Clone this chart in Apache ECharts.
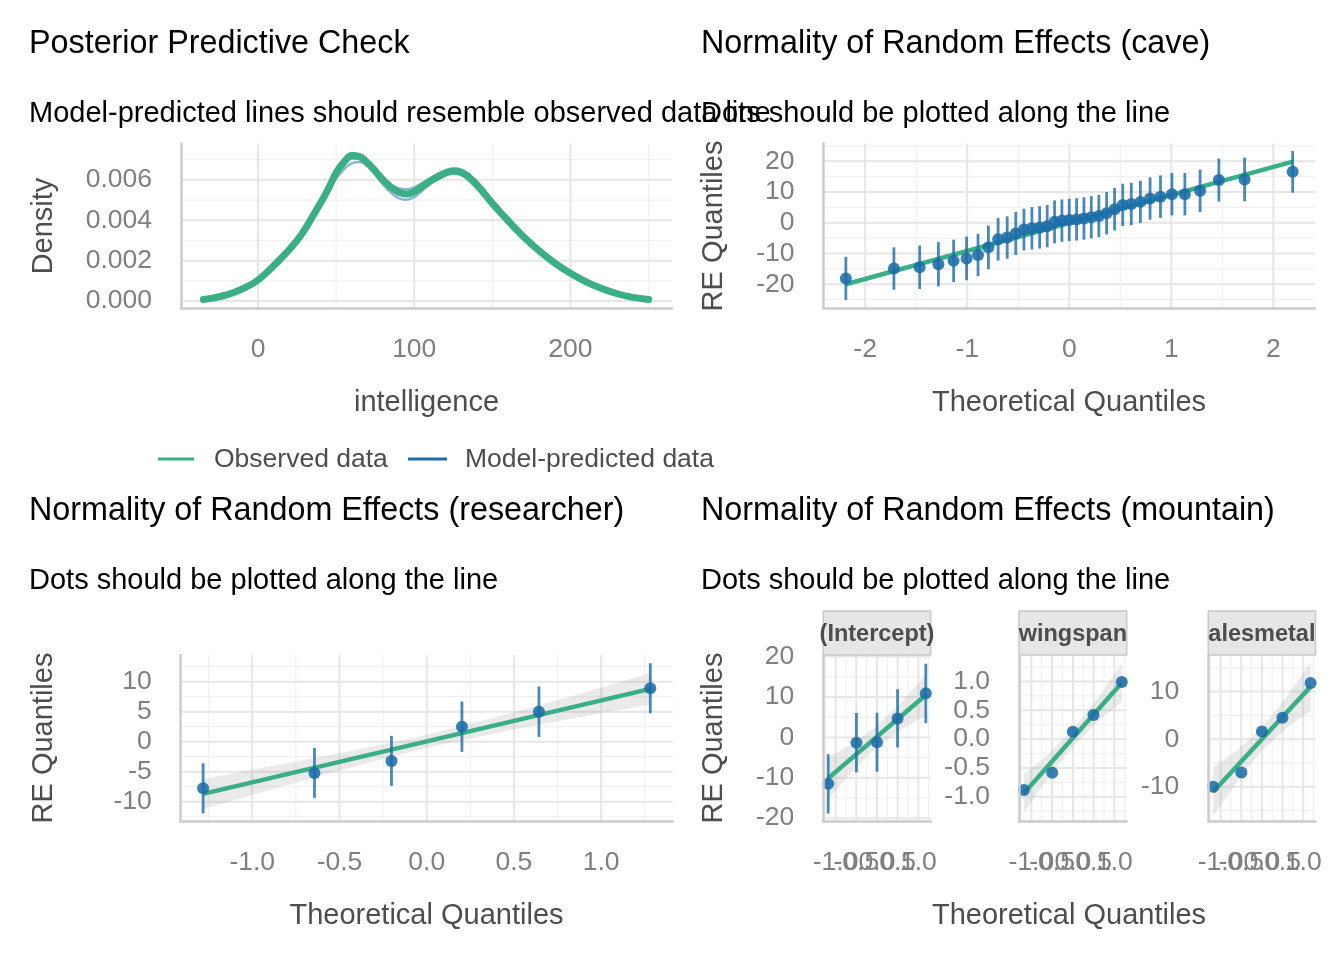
<!DOCTYPE html>
<html><head><meta charset="utf-8">
<script src="https://cdn.jsdelivr.net/npm/echarts@6/dist/echarts.min.js"></script>
<style>html,body{margin:0;padding:0;background:#fff}#c{width:1344px;height:960px}</style>
</head><body><div id="c"></div>
<script>
// ---------------- DATA ----------------
// Posterior predictive check (density of intelligence)
const ppcX = [-35,-30,-20,-10,0,10,20,25,30,35,40,45,50,55,60,65,70,75,80,85,90,95,100,105,110,115,120,125,130,135,140,145,150,160,170,180,190,200,210,220,230,240,250];
const ppcObserved = [0.00008,0.00013,0.00030,0.00060,0.00104,0.00175,0.00255,0.00300,0.00355,0.00420,0.00485,0.00555,0.00635,0.00688,0.00720,0.00715,0.00685,0.00645,0.00600,0.00565,0.00540,0.00530,0.00542,0.00566,0.00592,0.00615,0.00633,0.00642,0.00636,0.00612,0.00575,0.00530,0.00483,0.00398,0.00318,0.00248,0.00188,0.00137,0.00095,0.00062,0.00036,0.00018,0.00008];
const ppcDrawA = [0.00009,0.00014,0.00032,0.00063,0.00108,0.00180,0.00262,0.00308,0.00362,0.00425,0.00490,0.00556,0.00622,0.00672,0.00705,0.00705,0.00680,0.00640,0.00598,0.00562,0.00540,0.00535,0.00548,0.00575,0.00603,0.00628,0.00648,0.00658,0.00652,0.00628,0.00590,0.00545,0.00497,0.00410,0.00327,0.00255,0.00192,0.00140,0.00098,0.00064,0.00037,0.00019,0.00008];
const ppcDrawB = [0.00008,0.00013,0.00031,0.00062,0.00106,0.00177,0.00258,0.00305,0.00360,0.00424,0.00492,0.00562,0.00632,0.00685,0.00714,0.00706,0.00672,0.00625,0.00577,0.00537,0.00510,0.00502,0.00515,0.00545,0.00580,0.00612,0.00635,0.00645,0.00640,0.00618,0.00582,0.00538,0.00490,0.00402,0.00322,0.00250,0.00189,0.00138,0.00096,0.00063,0.00036,0.00018,0.00008];
const ppcDrawC = [0.00009,0.00015,0.00033,0.00066,0.00110,0.00182,0.00263,0.00309,0.00361,0.00420,0.00482,0.00545,0.00606,0.00652,0.00682,0.00688,0.00670,0.00638,0.00603,0.00574,0.00557,0.00553,0.00563,0.00584,0.00608,0.00628,0.00642,0.00646,0.00637,0.00613,0.00578,0.00537,0.00492,0.00407,0.00326,0.00256,0.00194,0.00142,0.00099,0.00065,0.00038,0.00019,0.00009];
const ppcDrawD = [0.00008,0.00013,0.00030,0.00061,0.00104,0.00174,0.00254,0.00300,0.00354,0.00418,0.00486,0.00556,0.00626,0.00680,0.00712,0.00710,0.00682,0.00642,0.00598,0.00562,0.00538,0.00530,0.00540,0.00564,0.00594,0.00622,0.00643,0.00652,0.00648,0.00627,0.00592,0.00548,0.00500,0.00413,0.00332,0.00260,0.00196,0.00143,0.00100,0.00066,0.00038,0.00019,0.00008];
const ppcDrawE = [0.00007,0.00012,0.00029,0.00059,0.00101,0.00171,0.00252,0.00300,0.00356,0.00422,0.00494,0.00568,0.00640,0.00694,0.00722,0.00715,0.00682,0.00636,0.00590,0.00552,0.00528,0.00521,0.00532,0.00556,0.00584,0.00609,0.00626,0.00633,0.00627,0.00606,0.00573,0.00532,0.00487,0.00402,0.00322,0.00252,0.00191,0.00140,0.00097,0.00064,0.00037,0.00018,0.00008];
const ppcXTicks = [0,100,200];
const ppcYTicks = [0,0.002,0.004,0.006];

// Random effects: cave
const caveX = [-2.189,-1.718,-1.466,-1.282,-1.133,-1.006,-0.894,-0.792,-0.697,-0.608,-0.524,-0.444,-0.366,-0.290,-0.216,-0.144,-0.072,0,0.072,0.144,0.216,0.290,0.366,0.444,0.524,0.608,0.697,0.792,0.894,1.006,1.133,1.282,1.466,1.718,2.189];
const caveY = [-18.1,-14.9,-14.5,-13.5,-12.4,-11.6,-10.5,-8.0,-5.4,-4.8,-3.5,-2.2,-1.8,-1.5,-1.1,0.3,0.7,0.9,1.1,1.4,1.8,2.2,3.1,4.4,5.8,6.1,6.8,7.9,8.5,9.3,9.3,10.4,13.9,14.1,16.6];
const caveErr = [7.0,6.9,7.1,7.2,6.9,7.1,6.9,7.1,6.9,6.9,7.0,6.8,6.9,6.9,6.9,7.0,6.9,6.9,6.9,6.9,6.9,6.9,6.9,6.9,6.9,6.9,6.9,6.9,6.9,6.9,6.9,6.9,7.0,7.1,6.8];
const caveLineX = [-2.189,2.189];
const caveLineY = [-20.0,19.9];
const caveXTicks = [-2,-1,0,1,2];
const caveYTicks = [-20,-10,0,10,20];

// Random effects: researcher
const resX = [-1.2816,-0.6433,-0.2019,0.2019,0.6433,1.2816];
const resY = [-7.77,-5.2,-3.2,2.5,5.0,8.9];
const resErr = [4.17,4.17,4.17,4.2,4.2,4.17];
const resLineX = [-1.2816,1.2816];
const resLineY = [-8.7,8.8];
const resBandX = [-1.2816,-0.9,-0.5,0,0.5,0.9,1.2816];
const resBandLo = [-11.2,-8.05,-4.82,-1.0,2.02,4.25,6.2];
const resBandHi = [-6.2,-4.15,-1.92,1.1,4.92,8.15,11.4];
const resXTicks = [-1,-0.5,0,0.5,1];
const resYTicks = [-10,-5,0,5,10];

// Random effects: mountain (three facets)
const mtX = [-1.1798,-0.4972,0,0.4972,1.1798];
const mtLineX = [-1.1798,1.1798];
const mtBandX = [-1.1798,-0.6,0,0.6,1.1798];
const mtInterceptY = [-11.5,-1.3,-1.2,4.7,10.9];
const mtInterceptErr = [7.35,7.35,7.3,7.2,7.35];
const mtInterceptLineY = [-10.1,10.5];
const mtInterceptBandLo = [-15.3,-8.44,-2.4,2.04,5.5];
const mtInterceptBandHi = [-4.9,-1.64,2.8,8.84,15.5];
const mtWingY = [-0.883,-0.582,0.13,0.42,0.99];
const mtWingLineY = [-0.94,0.98];
const mtWingBandLo = [-1.27,-0.668,-0.13,0.308,0.65];
const mtWingBandHi = [-0.61,-0.268,0.17,0.708,1.31];
const mtMetalY = [-10.0,-7.0,1.6,4.5,11.8];
const mtMetalLineY = [-11.05,11.05];
const mtMetalBandLo = [-16.15,-8.92,-2.4,2.32,5.95];
const mtMetalBandHi = [-5.95,-2.32,2.4,8.92,16.15];
const mtXTicks = [-1,-0.5,0,0.5,1];
const mtInterceptYTicks = [-20,-10,0,10,20];
const mtWingYTicks = [-1,-0.5,0,0.5,1];
const mtMetalYTicks = [-10,0,10];
const facetNames = ['(Intercept)','wingspan','alesmetal'];

// ---------------- STYLE / LAYOUT ----------------
const FONT = "'Liberation Sans', Arial, Helvetica, sans-serif";
const GREEN = '#3aaf85', BLUE = '#1b6ca8';
const TICKC = '#7f7f7f', TITLEC = '#4d4d4d';
const TICKS = 26.5;
const zip = (xs, ys) => xs.map((x, i) => [x, ys[i]]);

const grids = [], xAxes = [], yAxes = [], series = [], graphics = [];

function addPanel(rect, xr, yr, xLabelGroups, yLabels, xfmt, yfmt, grid) {
  const gi = grids.length;
  grids.push({left: rect[0], top: rect[1], width: rect[2], height: rect[3], containLabel: false});
  const xi = xAxes.length;
  xLabelGroups.forEach((vals, k) => {
    xAxes.push({type: 'value', gridIndex: gi, position: 'bottom', min: xr[0], max: xr[1], z: 10,
      axisLine: {show: k === 0, onZero: false, lineStyle: {color: '#cccccc', width: 2.5}},
      axisTick: {show: false}, splitLine: {show: false},
      axisLabel: {customValues: vals, formatter: xfmt, margin: 28, color: TICKC, fontSize: TICKS, fontFamily: FONT}});
  });
  const yi = yAxes.length;
  yAxes.push({type: 'value', gridIndex: gi, position: 'left', min: yr[0], max: yr[1], z: 10,
    axisLine: {show: true, onZero: false, lineStyle: {color: '#cccccc', width: 2.5}},
    axisTick: {show: false}, splitLine: {show: false},
    axisLabel: {customValues: yLabels, formatter: yfmt, margin: 29, color: TICKC, fontSize: TICKS, fontFamily: FONT,
      padding: [4, 0, 0, 0]}});
  // grid lines through the axis scales
  series.push({type: 'custom', xAxisIndex: xi, yAxisIndex: yi, silent: true, z: 0,
    data: [[xr[0], yr[0]]],
    renderItem: function (params, api) {
      const ch = [];
      const add = (a, b, major) => ch.push({type: 'line', shape: {x1: a[0], y1: a[1], x2: b[0], y2: b[1]},
        style: {stroke: major ? '#e6e6e6' : '#f1f1f1', lineWidth: major ? 2 : 1.2}});
      grid.xMinor.forEach(v => add(api.coord([v, yr[0]]), api.coord([v, yr[1]]), false));
      grid.yMinor.forEach(v => add(api.coord([xr[0], v]), api.coord([xr[1], v]), false));
      grid.xMajor.forEach(v => add(api.coord([v, yr[0]]), api.coord([v, yr[1]]), true));
      grid.yMajor.forEach(v => add(api.coord([xr[0], v]), api.coord([xr[1], v]), true));
      return {type: 'group', children: ch};
    }});
  return {xi, yi};
}

function bandSeries(ax, bx, lo, hi) {
  series.push({type: 'custom', xAxisIndex: ax.xi, yAxisIndex: ax.yi, silent: true, z: 1,
    data: [[bx[0], lo[0]]],
    renderItem: function (params, api) {
      const pts = [];
      bx.forEach((x, i) => pts.push(api.coord([x, hi[i]])));
      for (let i = bx.length - 1; i >= 0; i--) pts.push(api.coord([bx[i], lo[i]]));
      return {type: 'polygon', shape: {points: pts}, style: {fill: 'rgba(150,150,150,0.2)'}};
    }});
}
function refLine(ax, lx, ly) {
  series.push({type: 'line', xAxisIndex: ax.xi, yAxisIndex: ax.yi, data: zip(lx, ly), showSymbol: false,
    symbol: 'none', lineStyle: {color: GREEN, width: 4.5}, z: 3, silent: true});
}
function errBars(ax, xs, ys, err) {
  series.push({type: 'custom', xAxisIndex: ax.xi, yAxisIndex: ax.yi, silent: true, z: 4,
    encode: {x: 0, y: [1, 2]},
    data: xs.map((x, i) => [x, ys[i] - err[i], ys[i] + err[i]]),
    renderItem: function (params, api) {
      const a = api.coord([api.value(0), api.value(1)]);
      const b = api.coord([api.value(0), api.value(2)]);
      return {type: 'line', shape: {x1: a[0], y1: a[1], x2: b[0], y2: b[1]},
        style: {stroke: BLUE, lineWidth: 2.8, opacity: 0.8}};
    }});
}
function points(ax, xs, ys) {
  series.push({type: 'scatter', xAxisIndex: ax.xi, yAxisIndex: ax.yi, data: zip(xs, ys),
    symbolSize: 12, itemStyle: {color: BLUE, opacity: 0.88}, z: 5, silent: true});
}

const f0 = v => String(v), f1 = v => v.toFixed(1), f3 = v => v.toFixed(3);

// Panel A: posterior predictive check
const axA = addPanel([181, 143.5, 491, 165], [-49.3, 265], [-0.00037, 0.0078], [ppcXTicks], ppcYTicks, f0, f3,
  {xMajor: ppcXTicks, xMinor: [50, 150, 250], yMajor: ppcYTicks, yMinor: [0.001, 0.003, 0.005, 0.007]});
[ppcDrawA, ppcDrawB, ppcDrawC, ppcDrawD, ppcDrawE].forEach(d => {
  series.push({type: 'line', xAxisIndex: axA.xi, yAxisIndex: axA.yi, data: zip(ppcX, d), smooth: 0.4,
    showSymbol: false, symbol: 'none', lineStyle: {color: BLUE, width: 2.5, opacity: 0.5}, z: 2, silent: true});
});
series.push({type: 'line', xAxisIndex: axA.xi, yAxisIndex: axA.yi, data: zip(ppcX, ppcObserved), smooth: 0.4,
  showSymbol: false, symbol: 'none', lineStyle: {color: GREEN, width: 7, cap: 'round'}, z: 3, silent: true});

// Panel B: cave
const axB = addPanel([823.5, 143.5, 491.5, 165], [-2.408, 2.408], [-27.9, 25.8], [caveXTicks], caveYTicks, f0, f0,
  {xMajor: caveXTicks, xMinor: [-1.5, -0.5, 0.5, 1.5], yMajor: caveYTicks, yMinor: [-25, -15, -5, 5, 15, 25]});
refLine(axB, caveLineX, caveLineY);
errBars(axB, caveX, caveY, caveErr);
points(axB, caveX, caveY);

// Panel C: researcher
const axC = addPanel([180.7, 655, 492, 166.5], [-1.41, 1.41], [-13.3, 14.45], [resXTicks], resYTicks, f1, f0,
  {xMajor: resXTicks, xMinor: [-1.25, -0.75, -0.25, 0.25, 0.75, 1.25], yMajor: resYTicks, yMinor: [-12.5, -7.5, -2.5, 2.5, 7.5, 12.5]});
bandSeries(axC, resBandX, resBandLo, resBandHi);
refLine(axC, resLineX, resLineY);
errBars(axC, resX, resY, resErr);
points(axC, resX, resY);

// Panel D: mountain facets
const mtXGroups = [[-1, 0.5], [-0.5, 1], [0]];
const mtXMinor = [-1.25, -0.75, -0.25, 0.25, 0.75, 1.25];
const facetRects = [[823.3, 655, 107.4, 166], [1019, 655, 107.7, 166], [1208.3, 655, 107.2, 166]];
const axD1 = addPanel(facetRects[0], [-1.298, 1.298], [-20.7, 20.4], mtXGroups, mtInterceptYTicks, f1, f0,
  {xMajor: mtXTicks, xMinor: mtXMinor, yMajor: mtInterceptYTicks, yMinor: [-15, -5, 5, 15]});
bandSeries(axD1, mtBandX, mtInterceptBandLo, mtInterceptBandHi);
refLine(axD1, mtLineX, mtInterceptLineY);
errBars(axD1, mtX, mtInterceptY, mtInterceptErr);
points(axD1, mtX, mtInterceptY);

const axD2 = addPanel(facetRects[1], [-1.298, 1.298], [-1.42, 1.46], mtXGroups, mtWingYTicks, f1, f1,
  {xMajor: mtXTicks, xMinor: mtXMinor, yMajor: mtWingYTicks, yMinor: [-1.25, -0.75, -0.25, 0.25, 0.75, 1.25]});
bandSeries(axD2, mtBandX, mtWingBandLo, mtWingBandHi);
refLine(axD2, mtLineX, mtWingLineY);
points(axD2, mtX, mtWingY);

const axD3 = addPanel(facetRects[2], [-1.298, 1.298], [-17.2, 17.7], mtXGroups, mtMetalYTicks, f1, f0,
  {xMajor: mtXTicks, xMinor: mtXMinor, yMajor: mtMetalYTicks, yMinor: [-15, -5, 5, 15]});
bandSeries(axD3, mtBandX, mtMetalBandLo, mtMetalBandHi);
refLine(axD3, mtLineX, mtMetalLineY);
points(axD3, mtX, mtMetalY);

// ---------------- TEXT ----------------
function txt(x, y, text, size, color, o) {
  o = o || {};
  return {type: 'text', x: x, y: y, rotation: o.rot || 0, silent: true, z: 100,
    style: {text: text, x: 0, y: 0, fontSize: size, fontFamily: FONT, fontWeight: o.bold ? 'bold' : 'normal',
      fill: color, textAlign: o.align || 'left', textVerticalAlign: 'middle'}};
}
const TS = 32.3, SS = 29, AS = 29;
graphics.push(txt(29, 44, 'Posterior Predictive Check', TS, '#000'));
graphics.push(txt(701, 44, 'Normality of Random Effects (cave)', TS, '#000'));
graphics.push(txt(29, 114, 'Model-predicted lines should resemble observed data line', SS, '#000'));
graphics.push(txt(701, 114, 'Dots should be plotted along the line', SS, '#000'));
graphics.push(txt(29, 511, 'Normality of Random Effects (researcher)', TS, '#000'));
graphics.push(txt(701, 511, 'Normality of Random Effects (mountain)', TS, '#000'));
graphics.push(txt(29, 581, 'Dots should be plotted along the line', SS, '#000'));
graphics.push(txt(701, 581, 'Dots should be plotted along the line', SS, '#000'));

graphics.push(txt(44, 226, 'Density', AS, TITLEC, {rot: Math.PI / 2, align: 'center'}));
graphics.push(txt(714, 226, 'RE Quantiles', AS, TITLEC, {rot: Math.PI / 2, align: 'center'}));
graphics.push(txt(44, 738, 'RE Quantiles', AS, TITLEC, {rot: Math.PI / 2, align: 'center'}));
graphics.push(txt(714, 738, 'RE Quantiles', AS, TITLEC, {rot: Math.PI / 2, align: 'center'}));
graphics.push(txt(426.5, 403, 'intelligence', AS, TITLEC, {align: 'center'}));
graphics.push(txt(1069, 403, 'Theoretical Quantiles', AS, TITLEC, {align: 'center'}));
graphics.push(txt(426.5, 916, 'Theoretical Quantiles', AS, TITLEC, {align: 'center'}));
graphics.push(txt(1069, 916, 'Theoretical Quantiles', AS, TITLEC, {align: 'center'}));

// legend
graphics.push({type: 'line', silent: true, shape: {x1: 158, y1: 459, x2: 194, y2: 459}, style: {stroke: GREEN, lineWidth: 3}});
graphics.push(txt(214, 460, 'Observed data', 26.5, TITLEC));
graphics.push({type: 'line', silent: true, shape: {x1: 408, y1: 459, x2: 447, y2: 459}, style: {stroke: BLUE, lineWidth: 3}});
graphics.push(txt(465, 460, 'Model-predicted data', 26.5, TITLEC));

// facet strips
facetRects.forEach((r, i) => {
  graphics.push({type: 'rect', silent: true, z: 90, shape: {x: r[0], y: 611, width: r[2], height: 44},
    style: {fill: '#e6e6e6', stroke: '#c8c8c8', lineWidth: 1.5}});
  graphics.push(txt(r[0] + r[2] / 2, 635, facetNames[i], 23.5, TITLEC, {bold: true, align: 'center'}));
});

const chart = echarts.init(document.getElementById('c'), null, {renderer: 'canvas', width: 1344, height: 960});
chart.setOption({
  animation: false,
  backgroundColor: '#ffffff',
  textStyle: {fontFamily: FONT},
  grid: grids, xAxis: xAxes, yAxis: yAxes, series: series,
  graphic: {elements: graphics}
});
</script></body></html>
